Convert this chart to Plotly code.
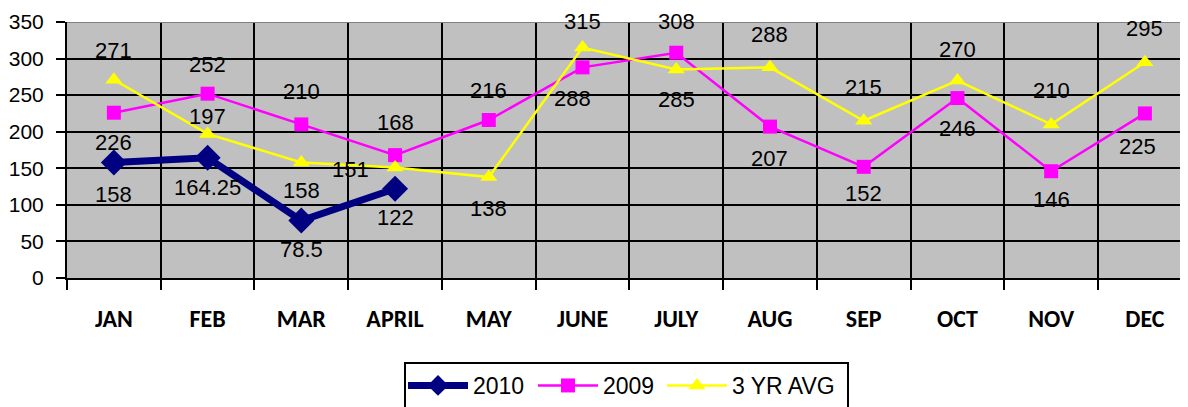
import plotly.graph_objects as go

months = ["JAN", "FEB", "MAR", "APRIL", "MAY", "JUNE", "JULY", "AUG", "SEP", "OCT", "NOV", "DEC"]
y2010 = [158, 164.25, 78.5, 122]
y2009 = [226, 252, 210, 168, 216, 288, 308, 207, 152, 246, 146, 225]
yavg = [271, 197, 158, 151, 138, 315, 285, 288, 215, 270, 210, 295]

# label offsets in px (positive = below the marker), style only
dy2010 = [32, 30, 29, 29]
dy2009 = [30, -29, -33, -33, -30, 31, -31, 32, 27, 30, 28, 33]
dyavg = [-29, -17, 28, None, 31, -26, 30, -33, -33, -31, -34, -34]
dx2009 = [0, 0, 0, 0, 0, -10, 0, 0, 0, 0, 0, -7]

NUMFONT = "Liberation Sans, Arial, sans-serif"
CATFONT = "Carlito, Lato, Liberation Sans, sans-serif"

# page body has an 8px margin; layout numbers below are in figure pixels
OFF = 8
W, H = 1188, 407
L = 67 - OFF           # plot left
T = 22 - OFF           # plot top
B_Y = 278 - OFF        # plot bottom (figure px)
PW = W - L             # plot width
PH = B_Y - T           # plot height
CAT_PX = 93.73         # px per category

def px_x(sx):
    return (sx - OFF - L) / PW

def px_y(sy):
    return (B_Y - (sy - OFF)) / PH

xs = list(range(len(months)))

fig = go.Figure()
fig.add_trace(go.Scatter(
    x=xs[:len(y2010)], y=y2010, name="2010", mode="lines+markers",
    line=dict(color="#000080", width=7),
    marker=dict(symbol="diamond", size=20, color="#000080"),
    legend="legend",
))
fig.add_trace(go.Scatter(
    x=xs, y=y2009, name="2009", mode="lines+markers",
    line=dict(color="#FF00FF", width=2.5),
    marker=dict(symbol="square", size=14, color="#FF00FF"),
    legend="legend",
))
fig.add_trace(go.Scatter(
    x=xs, y=yavg, name="3 YR AVG", mode="lines+markers",
    line=dict(color="#FFFF00", width=2.5),
    marker=dict(symbol="triangle-up", size=15, color="#FFFF00"),
    legend="legend2",
))

LABFONT = dict(family=NUMFONT, size=22, color="black")
annotations = []
def lab(x, y, dy, dx=0):
    fmt = ("%g" % y)
    if dy is None:
        annotations.append(dict(x=x, y=y, xref="x", yref="y", text=fmt, showarrow=False,
                                xanchor="right", yanchor="middle", xshift=-24, yshift=-2,
                                font=LABFONT))
    else:
        annotations.append(dict(x=x, y=y, xref="x", yref="y", text=fmt, showarrow=False,
                                xanchor="center", yanchor="middle", xshift=dx, yshift=-dy,
                                font=LABFONT))

for i, v in enumerate(y2010):
    lab(xs[i], v, dy2010[i])
for i, v in enumerate(y2009):
    lab(xs[i], v, dy2009[i], dx2009[i])
for i, v in enumerate(yavg):
    lab(xs[i], v, dyavg[i])

LEGFONT = dict(family=NUMFONT, size=23, color="black")
fig.update_layout(
    width=W, height=H,
    margin=dict(l=L, r=0, t=T, b=H - B_Y, autoexpand=False),
    paper_bgcolor="white", plot_bgcolor="#C0C0C0",
    showlegend=True,
    legend=dict(
        orientation="h", x=px_x(403), xanchor="left",
        y=px_y(364), yanchor="top",
        borderwidth=0, bgcolor="rgba(0,0,0,0)",
        font=LEGFONT, entrywidth=55, entrywidthmode="pixels",
        itemsizing="trace", itemwidth=60,
    ),
    legend2=dict(
        orientation="h", x=px_x(662), xanchor="left",
        y=px_y(364), yanchor="top",
        borderwidth=0, bgcolor="rgba(0,0,0,0)",
        font=LEGFONT, itemsizing="trace", itemwidth=60,
    ),
    annotations=annotations,
    shapes=[
        dict(type="line", xref="paper", yref="y", x0=0, x1=1, y0=350, y1=350,
             line=dict(color="#808080", width=2), layer="above"),
        dict(type="rect", xref="paper", yref="paper",
             x0=px_x(405), x1=px_x(848), y0=px_y(363), y1=px_y(430),
             line=dict(color="black", width=2), fillcolor="rgba(0,0,0,0)", layer="above"),
    ],
)

fig.update_xaxes(
    range=[-0.5, -0.5 + PW / CAT_PX],
    tickmode="array", tickvals=xs, ticktext=months,
    ticks="", showgrid=False, zeroline=False,
    showline=True, linecolor="black", linewidth=2,
    tickfont=dict(family=CATFONT, size=24, color="black", weight="bold"),
    ticklabelstandoff=18,
    minor=dict(tickvals=[i - 0.5 for i in range(len(months) + 1)],
               ticks="outside", ticklen=10, tickwidth=2, tickcolor="black",
               showgrid=True, gridcolor="black", gridwidth=2),
)
fig.update_yaxes(
    range=[0, 350], tickmode="linear", tick0=0, dtick=50,
    ticks="outside", ticklen=9, tickwidth=2, tickcolor="black",
    showgrid=True, gridcolor="black", gridwidth=2, zeroline=False,
    showline=True, linecolor="black", linewidth=2,
    tickfont=dict(family=NUMFONT, size=21, color="black"),
    ticklabelstandoff=8,
)

fig.write_html("out.html")
